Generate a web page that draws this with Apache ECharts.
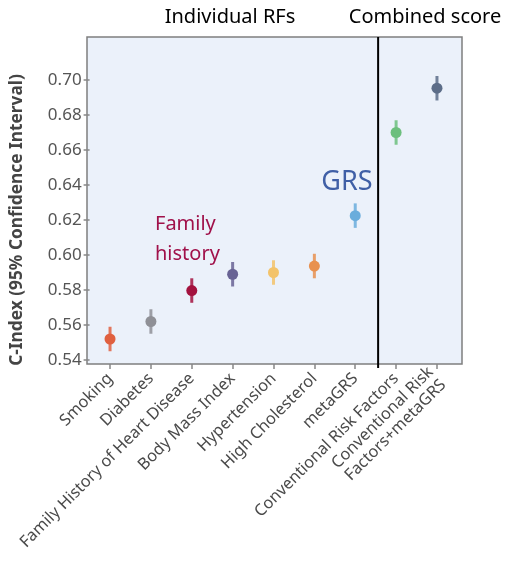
<!DOCTYPE html>
<html>
<head>
<meta charset="utf-8">
<script src="https://cdn.jsdelivr.net/npm/echarts@6/dist/echarts.min.js"></script>
<style>html,body{margin:0;padding:0;background:#fff;}#c{width:508px;height:563px;}</style>
</head>
<body>
<div id="c"></div>
<script>
const categories = ['Smoking','Diabetes','Family History of Heart Disease','Body Mass Index','Hypertension','High Cholesterol','metaGRS','Conventional Risk Factors','Conventional Risk\nFactors+metaGRS'];
const cIndex = [0.552, 0.562, 0.5797, 0.589, 0.590, 0.5937, 0.6225, 0.670, 0.6953];
const ciLow  = [0.545, 0.555, 0.5727, 0.582, 0.583, 0.5867, 0.6155, 0.663, 0.6883];
const ciHigh = [0.559, 0.569, 0.5867, 0.596, 0.597, 0.6007, 0.6295, 0.677, 0.7023];
const colors = ['#e0603f','#8f9096','#a3123e','#686394','#f3c36a','#e8914f','#6aaddc','#6cbf7d','#5c6d88'];
const yTicks = [0.54, 0.70, 0.02];

const chart = echarts.init(document.getElementById('c'));
const data = categories.map((c, i) => [i, cIndex[i], ciLow[i], ciHigh[i]]);
const font = '"Noto Sans", "Open Sans", sans-serif';

chart.setOption({
  animation: false,
  grid: {left: 89.6, right: 50.6, top: 80, bottom: 203},
  xAxis: {
    type: 'category', data: categories, boundaryGap: true,
    offset: 4,
    axisLine: {show: false},
    axisTick: {show: true, alignWithLabel: true, length: 5, lineStyle: {color: '#888', width: 1.5}},
    axisLabel: {rotate: 45, interval: 0, color: '#4a4a4a', fontSize: 16.3, fontFamily: font, margin: 12, lineHeight: 18}
  },
  yAxis: {
    type: 'value', min: yTicks[0], max: yTicks[1], interval: yTicks[2],
    name: 'C-Index (95% Confidence Interval)', nameLocation: 'middle', nameGap: 64, nameRotate: 90,
    nameTextStyle: {fontSize: 17.3, fontWeight: 'bold', color: '#444', fontFamily: font},
    splitLine: {show: false},
    axisLine: {show: false},
    axisTick: {show: true, length: 6, lineStyle: {color: '#888', width: 1.5}},
    axisLabel: {color: '#555', fontSize: 17, fontFamily: font, margin: 8, formatter: v => v.toFixed(2)}
  },
  series: [{
    type: 'custom', clip: false,
    data: data,
    renderItem: function (params, api) {
      const i = api.value(0);
      const p = api.coord([i, api.value(1)]);
      const lo = api.coord([i, api.value(2)]);
      const hi = api.coord([i, api.value(3)]);
      const col = colors[params.dataIndex];
      return {
        type: 'group', children: [
          {type: 'line', shape: {x1: lo[0], y1: lo[1], x2: hi[0], y2: hi[1]}, style: {stroke: col, lineWidth: 3, opacity: 0.85}},
          {type: 'circle', shape: {cx: p[0], cy: p[1], r: 5.5}, style: {fill: col}}
        ]
      };
    }
  }]
});

const p6 = chart.convertToPixel({xAxisIndex: 0}, 6);
const p7 = chart.convertToPixel({xAxisIndex: 0}, 7);
const lineX = p6 + (p7 - p6) * 0.56;

chart.setOption({
  graphic: [
    {type: 'rect', z: -10, shape: {x: 87, y: 37, width: 375, height: 327}, style: {fill: '#ebf1fa', stroke: '#7f7f7f', lineWidth: 1.5}},
    {type: 'line', z: 10, shape: {x1: lineX, y1: 37, x2: lineX, y2: 368}, style: {stroke: '#000', lineWidth: 2}},
    {type: 'text', x: 230, y: 17, style: {text: 'Individual RFs', font: '20px ' + font, fill: '#000', align: 'center', verticalAlign: 'middle'}},
    {type: 'text', x: 425, y: 17, style: {text: 'Combined score', font: '20px ' + font, fill: '#000', align: 'center', verticalAlign: 'middle'}},
    {type: 'text', x: 347, y: 182, style: {text: 'GRS', font: '27px ' + font, fill: '#3f5fa6', align: 'center', verticalAlign: 'middle'}},
    {type: 'text', x: 155, y: 239, style: {text: 'Family\nhistory', font: '20px ' + font, lineHeight: 30, fill: '#a0114a', align: 'left', verticalAlign: 'middle'}}
  ]
});
</script>
</body>
</html>
